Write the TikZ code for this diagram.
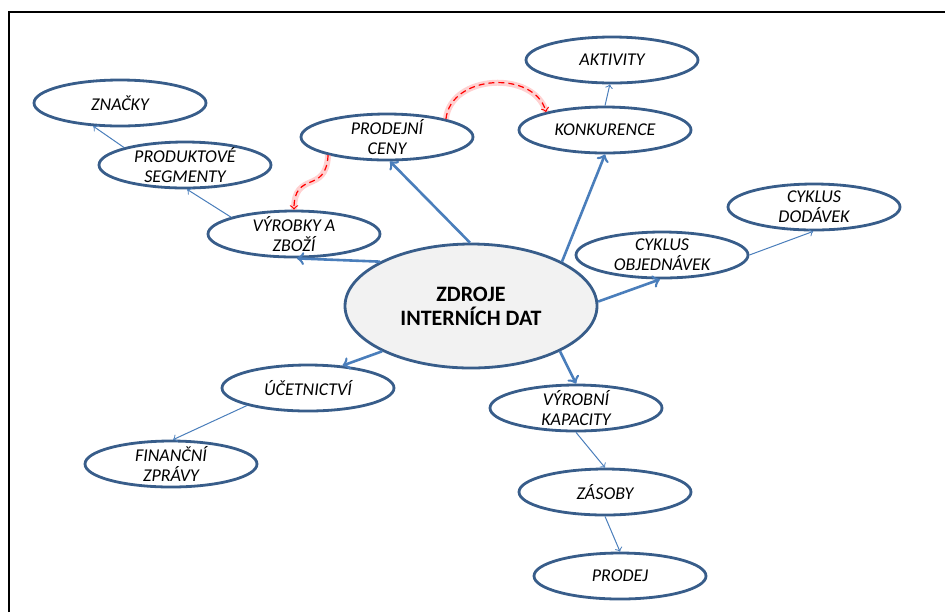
\documentclass[tikz,border=0pt]{standalone}
\usepackage{fontspec}
\setmainfont{Carlito}
\usepackage{tikz}
\usetikzlibrary{arrows}
\usetikzlibrary{shapes.geometric}
\definecolor{rimblue}{HTML}{385D8A}
\definecolor{lineblue}{HTML}{4A7EBB}
\definecolor{fillgray}{HTML}{F2F2F2}
\tikzset{
    bubble/.style={ellipse, draw=rimblue, line width=1.4pt,
        minimum width=86pt, minimum height=23pt, inner xsep=0pt, inner ysep=-2pt,
        align=center, font=\fontsize{9}{10}\selectfont\itshape} }
\tikzset{
    bigbubble/.style={ellipse, draw=rimblue, fill=fillgray, line width=1.4pt,
        minimum width=126pt, minimum height=62pt, inner sep=0pt,
        align=center, font=\fontsize{11}{12}\selectfont\bfseries} }
\tikzset{
    thickarrow/.style={->, draw=lineblue, line width=1.3pt} }
\tikzset{
    thinarrow/.style={->, draw=lineblue, line width=0.5pt} }
\tikzset{
    redarrow/.style={->, red, densely dashed, line width=0.6pt,
        preaction={draw=red!40, solid, -, line width=3pt, opacity=0.45}} }

\begin{document}
\begin{tikzpicture}[x=0.5pt,y=-0.5pt]
  \useasboundingbox (0,0) rectangle (945,612);
  \draw [line width=1pt] (9,612) -- (9,12) -- (945,12);

  \node [bigbubble] (c) at (471,306) {ZDROJE\\INTERNÍCH DAT};

  \node [bubble] (zn) at (120,103) {ZNAČKY};
  \node [bubble] (ps) at (185,165) {PRODUKTOVÉ\\SEGMENTY};
  \node [bubble] (vz) at (294,234) {VÝROBKY A\\ZBOŽÍ};
  \node [bubble] (pc) at (387,137) {PRODEJNÍ\\CENY};
  \node [bubble] (ak) at (612,60) {AKTIVITY};
  \node [bubble] (ko) at (605,130) {KONKURENCE};
  \node [bubble] (cd) at (814,207) {CYKLUS\\DODÁVEK};
  \node [bubble] (co) at (662,255) {CYKLUS\\OBJEDNÁVEK};
  \node [bubble] (uc) at (308,388) {ÚČETNICTVÍ};
  \node [bubble] (fz) at (171,464) {FINANČNÍ\\ZPRÁVY};
  \node [bubble] (vk) at (576,408) {VÝROBNÍ\\KAPACITY};
  \node [bubble] (zs) at (605,492) {ZÁSOBY};
  \node [bubble] (pd) at (620,576) {PRODEJ};

  % from the middle
  \draw [thickarrow] (c.91) -- (pc.277);
  \draw [thickarrow] (c.26) -- (ko.south);
  \draw [thickarrow] (c.2) -- (co.265);
  \draw [thickarrow] (c.154) -- (vz.277);
  \draw [thickarrow] (c.207) -- (uc.33);
  \draw [thickarrow] (c.333) -- (vk.north);

  % second level
  \draw [thinarrow] (vz.165) -- (ps.275);
  \draw [thinarrow] (ps.164) -- (zn.221);
  \draw [thinarrow] (ko.north) -- (ak.265);
  \draw [thinarrow] (co.east) -- (cd.268);
  \draw [thinarrow] (uc.196) -- (fz.85);
  \draw [thinarrow] (vk.south) -- (zs.north);
  \draw [thinarrow] (zs.south) -- (pd.north);

  \draw [redarrow] (pc.17) .. controls +(5,-45) and +(-12,-42) .. (ko.163);
  \draw [redarrow] (pc.197) .. controls +(-2,40) and +(0,-40) .. (vz.north);
\end{tikzpicture}
\end{document}
